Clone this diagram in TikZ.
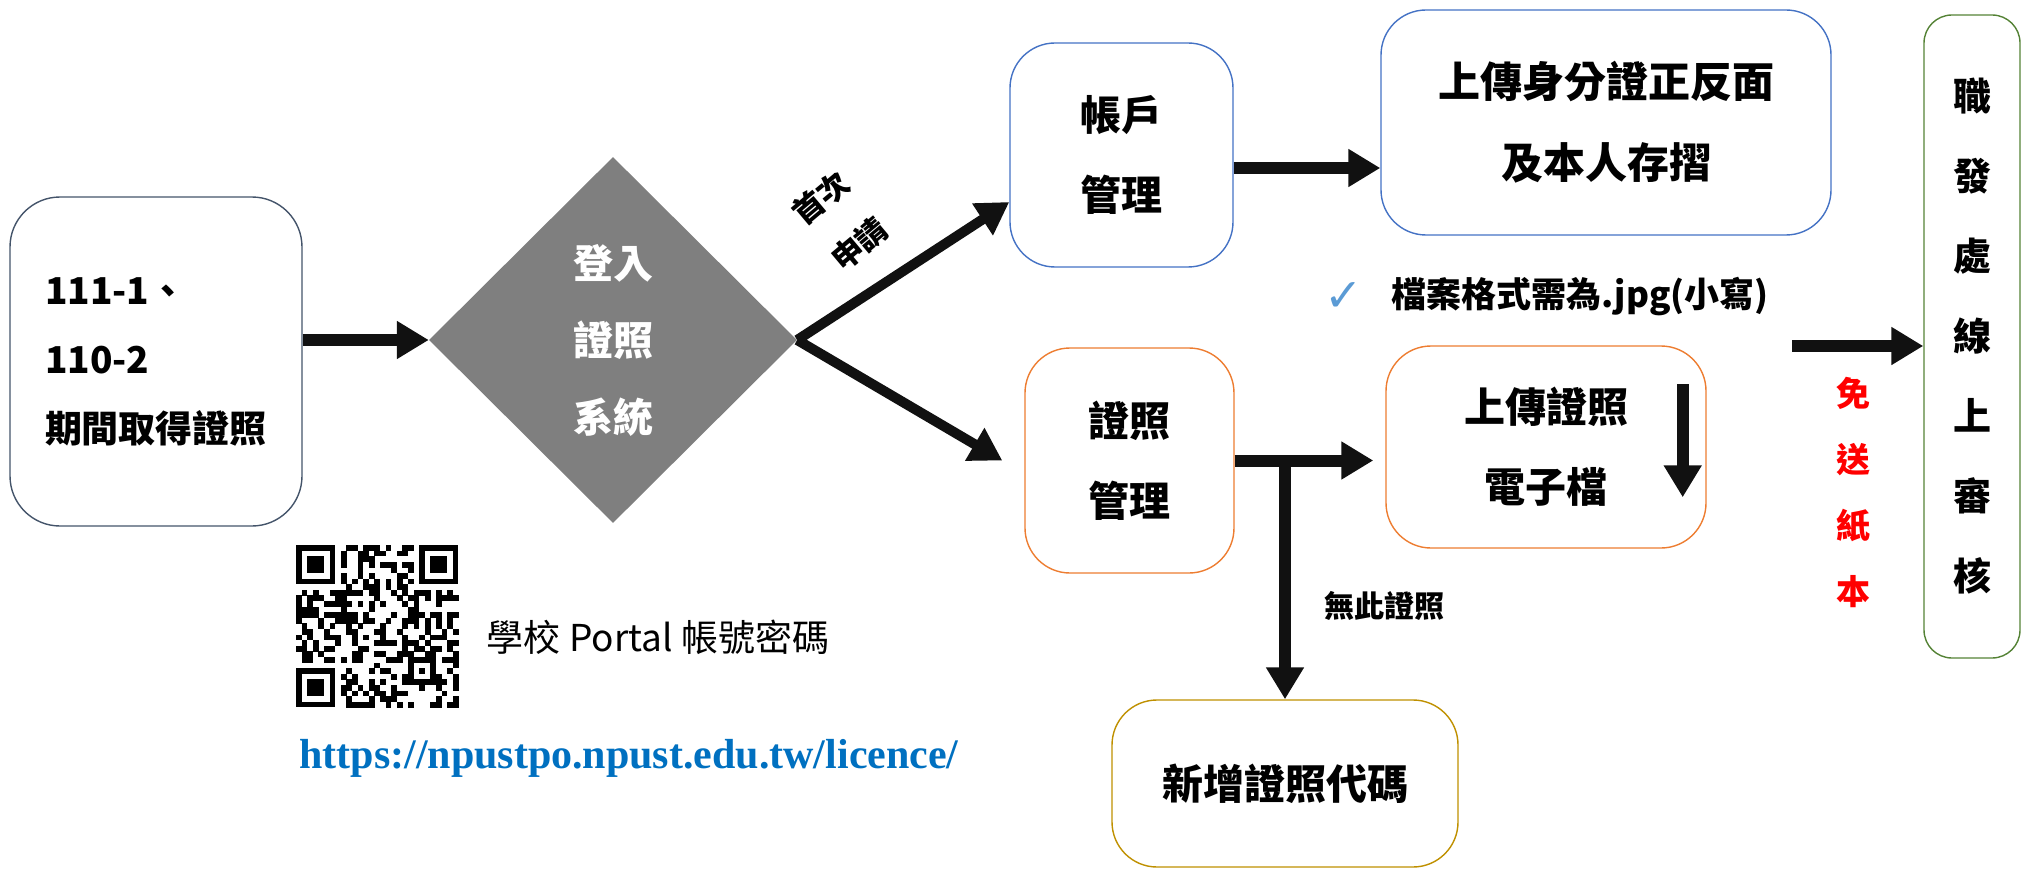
\documentclass[tikz,border=0pt]{standalone}
\usepackage{fontspec}
\setmainfont{Noto Sans CJK TC}
\newfontfamily\urlfont{Liberation Serif}
\newfontfamily\symfont{DejaVu Sans}
\usepackage{tikz}
\usetikzlibrary{shapes.geometric,arrows.meta}
\usepackage{xcolor}
\definecolor{slateline}{HTML}{44546A}
\definecolor{blueline}{HTML}{4472C4}
\definecolor{orangeline}{HTML}{ED7D31}
\definecolor{goldline}{HTML}{BF9000}
\definecolor{greenline}{HTML}{548235}
\definecolor{diamondgray}{HTML}{7F7F7F}
\definecolor{linkblue}{HTML}{0070C0}
\definecolor{tickblue}{HTML}{5B9BD5}
\definecolor{arrowblack}{HTML}{111111}
\newcommand{\fsz}[2]{\fontsize{#1}{#2}\selectfont}
\newcommand{\finder}[2] {
    \fill[black] ({#1}, {#2}) rectangle ++(39.2,39.2);
    \fill[white] ({#1+5.6}, {#2+5.6}) rectangle ++(28,28);
    \fill[black] ({#1+11.2}, {#2+11.2}) rectangle ++(16.8,16.8);
}
\newcommand{\qrcode}[2] {
    \pgfmathsetseed{2023}
    \foreach \r in {0,...,28} {
        \foreach \c in {0,...,28} {
            \pgfmathtruncatemacro{\qskip}{((\r<8)&&(\c<8)) || ((\r<8)&&(\c>20)) || ((\r>20)&&(\c<8)) || ((\r>19)&&(\r<25)&&(\c>19)&&(\c<25)) || (\r==6) || (\c==6)}
            \pgfmathtruncatemacro{\qbit}{rnd<0.5}
            \ifnum\qskip=0 \ifnum\qbit=1
                \fill[black] ({#1+\c*5.6}, {#2+\r*5.6}) rectangle ++(5.7,5.7);
            \fi\fi
        }
    }
    \foreach \k in {8,10,...,20} {
        \fill[black] ({#1+\k*5.6}, {#2+33.6}) rectangle ++(5.7,5.7);
        \fill[black] ({#1+33.6}, {#2+\k*5.6}) rectangle ++(5.7,5.7);
    }
    \finder{#1}{#2}
    \finder{#1+123.2}{#2}
    \finder{#1}{#2+123.2}
    \fill[black] ({#1+112}, {#2+112}) rectangle ++(28,28);
    \fill[white] ({#1+117.6}, {#2+117.6}) rectangle ++(16.8,16.8);
    \fill[black] ({#1+123.2}, {#2+123.2}) rectangle ++(5.6,5.6);
}
\tikzset{
    x=1pt,
    y=-1pt,
    box/.style={
        draw,
        rounded corners=45pt,
        line width=1.4pt,
        align=center,
        inner sep=0pt,
        font=\bfseries\fsz{41}{80}
    },
    bigarrow/.style={
        draw=arrowblack,
        line width=12pt,
        -{Triangle[length=32pt,width=36pt]}
    }
}

\begin{document}
\begin{tikzpicture}
    \useasboundingbox (0,0) rectangle (2022,869);
    % boxes
    \node[box,draw=slateline,rounded corners=50pt,minimum width=292,minimum height=329,align=left,font=\bfseries\fsz{37}{69}] (period) at (156,361.5) {111-1、\\110-2\\期間取得證照};
    \node[diamond,fill=diamondgray,minimum width=368,minimum height=366,inner sep=0pt,text=white,align=center,font=\bfseries\fsz{40}{77}] (login) at (613,340) {登入\\證照\\系統};
    \node[box,draw=blueline,minimum width=223,minimum height=224] (acct) at (1121.5,155) {帳戶\\管理};
    \node[box,draw=blueline,minimum width=450,minimum height=225,font=\bfseries\fsz{42}{81}] (idbox) at (1606,122.5) {上傳身分證正反面\\及本人存摺};
    \node[box,draw=orangeline,minimum width=209,minimum height=225] (cert) at (1129.5,460.5) {證照\\管理};
    \node[box,draw=orangeline,minimum width=320,minimum height=202] (upcert) at (1546,447) {上傳證照\\電子檔};
    \node[box,draw=goldline,minimum width=346,minimum height=167] (newcode) at (1285,783.5) {新增證照代碼};
    \node[box,draw=greenline,rounded corners=28pt,minimum width=96,minimum height=643,font=\bfseries\fsz{38}{80}] (office) at (1972,336.5) {職\\發\\處\\線\\上\\審\\核};
    % labels
    \node[rotate=40,align=center,font=\bfseries\fsz{31}{60}] (firsttime) at (840,221) {首次\\申請};
    \node[text=tickblue,font=\symfont\bfseries\fsz{46}{48}] (tick) at (1344,297) {✓};
    \node[font=\bfseries\fsz{35}{40}] (jpgnote) at (1580,297) {檔案格式需為.jpg(小寫)};
    \node[font=\bfseries\fsz{30}{34}] (nocert) at (1384,606) {無此證照};
    \node[text=red,align=center,font=\bfseries\fsz{34}{66}] (nopaper) at (1853,492) {免\\送\\紙\\本};
    \node[font=\fsz{37}{40}] (portal) at (658,637) {學校 Portal 帳號密碼};
    \node[text=linkblue,font=\urlfont\bfseries\fsz{42}{46}] (url) at (629,758) {https://npustpo.npust.edu.tw/licence/};
    \qrcode{296}{545}
    % arrows
    \draw[bigarrow] (period.east |- login.west) -- (login.west);
    \draw[bigarrow,line width=10pt] (login.east) -- ([yshift=-47pt]acct.west);
    \draw[bigarrow,line width=10pt] (login.east) -- ([xshift=-22pt]cert.west);
    \draw[bigarrow] ([yshift=-13pt]acct.east) -- ([yshift=-13pt]acct.east -| idbox.west);
    \draw[bigarrow] (cert.east) -- ([xshift=-12pt]cert.east -| upcert.west);
    \draw[bigarrow] (newcode.north |- cert.east) -- (newcode.north);
    \draw[bigarrow] ([shift={(-24,39)}]upcert.north east) -- ++(0,113);
    \coordinate (handoff) at (1792,346);
    \draw[bigarrow] (handoff) -- (handoff -| office.west);
\end{tikzpicture}
\end{document}
